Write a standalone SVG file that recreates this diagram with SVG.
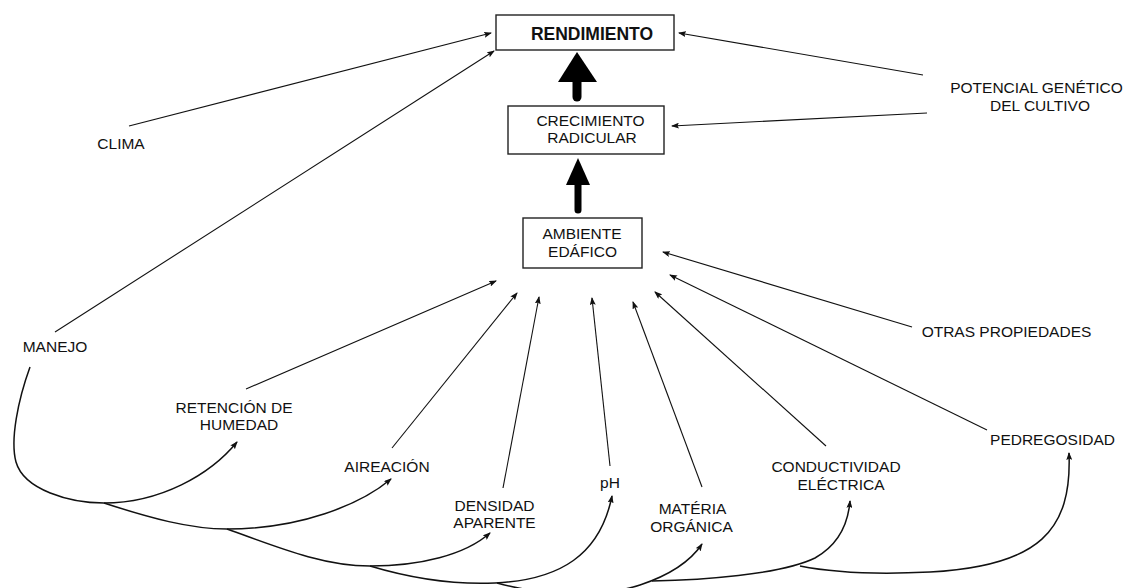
<svg xmlns="http://www.w3.org/2000/svg" width="1127" height="588" viewBox="0 0 1127 588">
<style>
.lbl{font-family:"Liberation Sans",Arial,sans-serif;font-size:15.5px;fill:#111;text-anchor:middle}
.bold{font-weight:bold;font-size:17.5px}
.box{fill:#fff;stroke:#222;stroke-width:1.4}
.ln{fill:none;stroke:#111;stroke-width:1.1;marker-end:url(#ah)}
.cva{fill:none;stroke:#111;stroke-width:1.5;marker-end:url(#ah)}
</style>
<defs>
<marker id="ah" markerWidth="8" markerHeight="6" refX="7" refY="3" orient="auto" markerUnits="userSpaceOnUse">
<path d="M0,0 L8,3 L0,6 L1.5,3 z" fill="#111"/>
</marker>
</defs>
<rect width="1127" height="588" fill="#fff"/>
<g id="connectors">
<line class="ln" x1="129" y1="126" x2="491" y2="33"/>
<line class="ln" x1="55" y1="332" x2="494" y2="51"/>
<line class="ln" x1="923" y1="75" x2="679" y2="33"/>
<line class="ln" x1="927" y1="113" x2="672" y2="126"/>
<line class="ln" x1="912" y1="327" x2="663" y2="252"/>
<line class="ln" x1="987" y1="430" x2="670" y2="275"/>
<line class="ln" x1="826" y1="446" x2="655" y2="292"/>
<line class="ln" x1="702" y1="487" x2="633" y2="302"/>
<line class="ln" x1="610" y1="466" x2="592" y2="298"/>
<line class="ln" x1="503" y1="488" x2="539" y2="297"/>
<line class="ln" x1="392" y1="448" x2="517" y2="293"/>
<line class="ln" x1="246" y1="389" x2="496" y2="281"/>
<path class="cva" d="M30,367 C18,400 10,440 16,462 C24,490 70,503 104,503 C160,503 210,475 237,442"/>
<path class="cva" d="M104,503 C150,518 190,529 227,529 C300,529 360,505 391,479"/>
<path class="cva" d="M227,529 C270,544 320,566 370,566 C420,566 465,555 490,533"/>
<path class="cva" d="M370,566 C410,578 450,585 495,583 C560,580 600,555 612,496"/>
<path class="cva" d="M497,583 C540,595 600,598 640,585 C670,575 690,562 702,544"/>
<path class="cva" d="M652,581 C700,580 780,575 815,558 C838,545 848,525 850,501"/>
<path class="cva" d="M800,566 C830,572 870,575 930,572 C1040,566 1072,530 1069,453"/>
<line x1="577" y1="97" x2="577" y2="80" stroke="#000" stroke-width="9" stroke-linecap="round"/>
<path d="M558,82 L577,52 L597,82 z" fill="#000"/>
<line x1="578" y1="210" x2="578" y2="183" stroke="#000" stroke-width="7" stroke-linecap="round"/>
<path d="M566,185 L578,158 L590,185 z" fill="#000"/>
</g>
<g id="rendimiento">
<rect class="box" x="496" y="15" width="178" height="35"/>
<text class="lbl bold" x="592" y="40">RENDIMIENTO</text>
</g>
<g id="crecimiento">
<rect class="box" x="508" y="106" width="156" height="48"/>
<text class="lbl" x="590.5" y="126">CRECIMIENTO</text>
<text class="lbl" x="592" y="143">RADICULAR</text>
</g>
<g id="ambiente">
<rect class="box" x="523" y="218" width="119" height="50"/>
<text class="lbl" x="582" y="239">AMBIENTE</text>
<text class="lbl" x="582.5" y="257">EDÁFICO</text>
</g>
<g id="clima"><text class="lbl" x="121" y="149">CLIMA</text></g>
<g id="manejo"><text class="lbl" x="55" y="352">MANEJO</text></g>
<g id="potencial">
<text class="lbl" x="1036.5" y="93">POTENCIAL GENÉTICO</text>
<text class="lbl" x="1040" y="111">DEL CULTIVO</text>
</g>
<g id="otras"><text class="lbl" x="1006.5" y="337">OTRAS PROPIEDADES</text></g>
<g id="pedregosidad"><text class="lbl" x="1052.5" y="445">PEDREGOSIDAD</text></g>
<g id="conductividad">
<text class="lbl" x="836" y="472">CONDUCTIVIDAD</text>
<text class="lbl" x="841" y="490">ELÉCTRICA</text>
</g>
<g id="materia">
<text class="lbl" x="692.5" y="514">MATÉRIA</text>
<text class="lbl" x="691.5" y="532">ORGÁNICA</text>
</g>
<g id="ph"><text class="lbl" x="610" y="488">pH</text></g>
<g id="densidad">
<text class="lbl" x="494.5" y="511">DENSIDAD</text>
<text class="lbl" x="494.5" y="528">APARENTE</text>
</g>
<g id="aireacion"><text class="lbl" x="387" y="472">AIREACIÓN</text></g>
<g id="retencion">
<text class="lbl" x="234" y="413">RETENCIÓN DE</text>
<text class="lbl" x="239" y="430">HUMEDAD</text>
</g>
</svg>
